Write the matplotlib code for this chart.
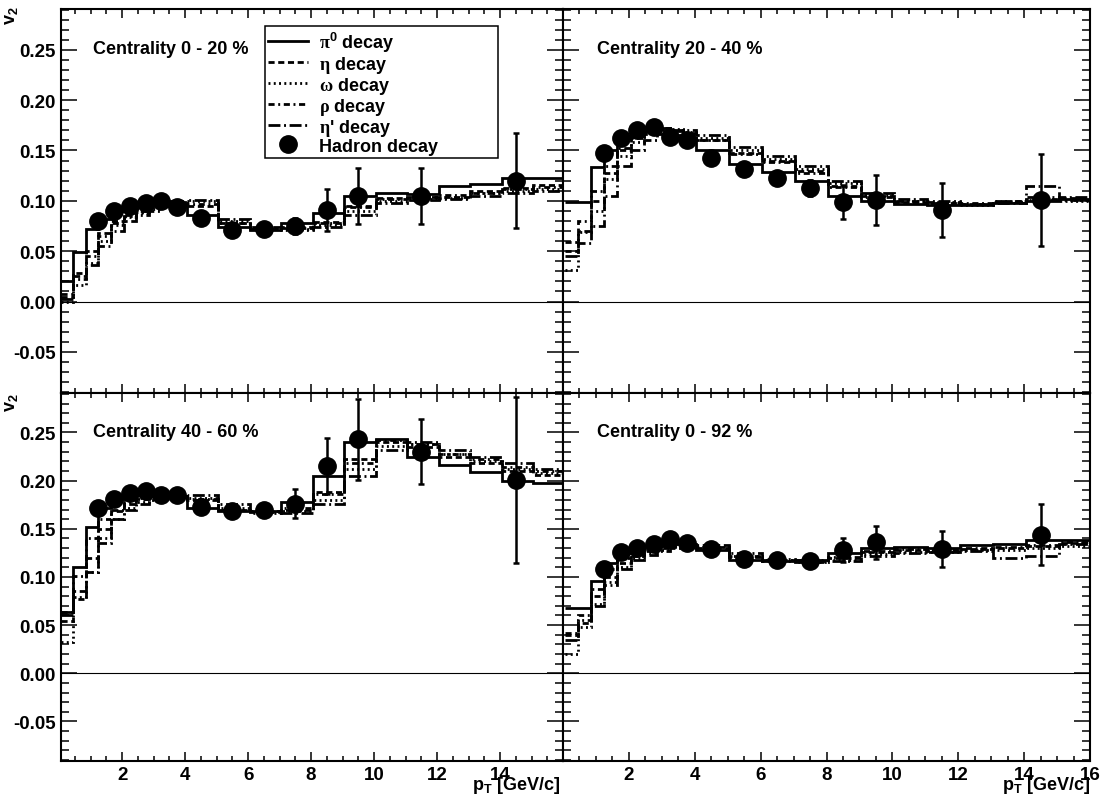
import numpy as np
import matplotlib
matplotlib.use("Agg")
import matplotlib.pyplot as plt
from matplotlib.lines import Line2D
from matplotlib.ticker import MultipleLocator, FuncFormatter, FormatStrFormatter

plt.rcParams['font.family'] = ['Liberation Sans', 'DejaVu Sans']
plt.rcParams['font.weight'] = 'bold'
plt.rcParams['mathtext.fontset'] = 'custom'
plt.rcParams['mathtext.rm'] = 'Liberation Serif'
plt.rcParams['mathtext.bf'] = 'Liberation Sans:bold'
plt.rcParams['mathtext.it'] = 'Liberation Sans:bold'

# histogram bin edges (pT, GeV/c)
edges = [0.05, 0.45, 0.85, 1.25, 1.65, 2.05, 2.45, 2.85, 3.25, 3.65, 4.05,
         5.05, 6.05, 7.05, 8.05, 9.05, 10.05, 11.05, 12.05, 13.05, 14.05, 15.05, 16.05]

# hadron decay points
had_pt = [1.25, 1.75, 2.25, 2.75, 3.25, 3.75, 4.5, 5.5, 6.5, 7.5, 8.5, 9.5, 11.5, 14.5]

# --- Centrality 0 - 20 %
pi0_c1 = [0.020, 0.049, 0.072, 0.082, 0.090, 0.095, 0.098, 0.100, 0.100, 0.095, 0.086,
          0.074, 0.071, 0.078, 0.088, 0.105, 0.108, 0.107, 0.115, 0.117, 0.123, 0.123]
eta_c1 = [0.005, 0.028, 0.050, 0.068, 0.080, 0.086, 0.090, 0.094, 0.098, 0.097, 0.095,
          0.078, 0.072, 0.073, 0.079, 0.095, 0.103, 0.104, 0.104, 0.110, 0.113, 0.116]
omega_c1 = [0.000, 0.016, 0.038, 0.060, 0.076, 0.084, 0.088, 0.092, 0.097, 0.100, 0.100,
            0.080, 0.073, 0.072, 0.076, 0.090, 0.100, 0.102, 0.103, 0.108, 0.110, 0.112]
rho_c1 = [0.008, 0.025, 0.045, 0.065, 0.078, 0.085, 0.089, 0.094, 0.097, 0.098, 0.097,
          0.078, 0.072, 0.074, 0.078, 0.094, 0.102, 0.104, 0.106, 0.108, 0.112, 0.114]
etap_c1 = [0.003, 0.022, 0.036, 0.055, 0.070, 0.080, 0.086, 0.090, 0.095, 0.099, 0.101,
           0.082, 0.074, 0.071, 0.074, 0.086, 0.098, 0.101, 0.102, 0.105, 0.108, 0.110]
had_c1 = [0.080, 0.090, 0.095, 0.098, 0.100, 0.094, 0.083, 0.071, 0.072, 0.075, 0.091, 0.105, 0.105, 0.120]
err_c1 = [0.002, 0.002, 0.002, 0.002, 0.003, 0.003, 0.003, 0.004, 0.004, 0.008, 0.021, 0.028, 0.028, 0.047]

# --- Centrality 20 - 40 %
pi0_c2 = [0.099, 0.099, 0.134, 0.150, 0.163, 0.170, 0.173, 0.172, 0.165, 0.160, 0.150,
          0.137, 0.129, 0.120, 0.105, 0.100, 0.097, 0.096, 0.096, 0.098, 0.100, 0.102]
eta_c2 = [0.050, 0.070, 0.100, 0.128, 0.150, 0.162, 0.168, 0.172, 0.170, 0.166, 0.160,
          0.148, 0.140, 0.130, 0.115, 0.105, 0.099, 0.098, 0.097, 0.100, 0.102, 0.103]
omega_c2 = [0.031, 0.069, 0.090, 0.122, 0.145, 0.158, 0.166, 0.170, 0.171, 0.168, 0.162,
            0.150, 0.142, 0.132, 0.118, 0.106, 0.100, 0.098, 0.096, 0.099, 0.101, 0.100]
rho_c2 = [0.059, 0.080, 0.110, 0.135, 0.152, 0.163, 0.169, 0.172, 0.170, 0.167, 0.160,
          0.147, 0.139, 0.128, 0.114, 0.104, 0.100, 0.099, 0.098, 0.100, 0.104, 0.101]
etap_c2 = [0.045, 0.058, 0.075, 0.105, 0.135, 0.150, 0.160, 0.166, 0.169, 0.170, 0.165,
           0.153, 0.145, 0.135, 0.120, 0.108, 0.102, 0.100, 0.097, 0.098, 0.115, 0.104]
had_c2 = [0.148, 0.162, 0.170, 0.173, 0.163, 0.160, 0.143, 0.132, 0.123, 0.113, 0.099, 0.101, 0.091, 0.101]
err_c2 = [0.003, 0.003, 0.003, 0.003, 0.003, 0.003, 0.003, 0.004, 0.005, 0.008, 0.017, 0.025, 0.027, 0.046]

# --- Centrality 40 - 60 %
pi0_c3 = [0.064, 0.110, 0.152, 0.172, 0.181, 0.186, 0.188, 0.189, 0.186, 0.184, 0.172,
          0.168, 0.168, 0.178, 0.205, 0.240, 0.243, 0.225, 0.216, 0.209, 0.200, 0.198]
eta_c3 = [0.054, 0.077, 0.120, 0.150, 0.168, 0.176, 0.181, 0.184, 0.185, 0.185, 0.180,
          0.170, 0.167, 0.170, 0.188, 0.222, 0.240, 0.235, 0.225, 0.218, 0.210, 0.206]
omega_c3 = [0.032, 0.079, 0.105, 0.140, 0.160, 0.172, 0.178, 0.182, 0.184, 0.186, 0.182,
            0.172, 0.166, 0.168, 0.180, 0.212, 0.236, 0.238, 0.228, 0.220, 0.212, 0.208]
rho_c3 = [0.064, 0.101, 0.140, 0.160, 0.170, 0.178, 0.182, 0.185, 0.186, 0.186, 0.181,
          0.170, 0.168, 0.172, 0.186, 0.218, 0.242, 0.238, 0.228, 0.222, 0.214, 0.210]
etap_c3 = [0.060, 0.085, 0.105, 0.135, 0.160, 0.170, 0.176, 0.180, 0.183, 0.186, 0.185,
           0.176, 0.168, 0.166, 0.176, 0.205, 0.232, 0.240, 0.232, 0.225, 0.218, 0.212]
had_c3 = [0.172, 0.181, 0.187, 0.189, 0.185, 0.185, 0.173, 0.168, 0.169, 0.176, 0.215, 0.243, 0.230, 0.201]
err_c3 = [0.003, 0.003, 0.003, 0.003, 0.003, 0.003, 0.004, 0.005, 0.007, 0.015, 0.029, 0.042, 0.034, 0.086]

# --- Centrality 0 - 92 %
pi0_c4 = [0.068, 0.068, 0.096, 0.115, 0.125, 0.130, 0.132, 0.135, 0.136, 0.134, 0.128,
          0.118, 0.117, 0.118, 0.125, 0.130, 0.131, 0.130, 0.133, 0.134, 0.138, 0.138]
eta_c4 = [0.040, 0.052, 0.080, 0.100, 0.115, 0.122, 0.127, 0.130, 0.132, 0.133, 0.130,
          0.121, 0.118, 0.117, 0.120, 0.126, 0.128, 0.127, 0.129, 0.130, 0.132, 0.135]
omega_c4 = [0.020, 0.048, 0.072, 0.095, 0.110, 0.120, 0.125, 0.128, 0.131, 0.133, 0.131,
            0.122, 0.117, 0.116, 0.118, 0.124, 0.126, 0.126, 0.128, 0.128, 0.130, 0.132]
rho_c4 = [0.042, 0.060, 0.088, 0.108, 0.120, 0.126, 0.130, 0.132, 0.134, 0.134, 0.131,
          0.122, 0.118, 0.118, 0.121, 0.127, 0.129, 0.128, 0.130, 0.131, 0.133, 0.136]
etap_c4 = [0.035, 0.055, 0.070, 0.092, 0.108, 0.118, 0.123, 0.127, 0.130, 0.133, 0.133,
           0.125, 0.119, 0.116, 0.117, 0.122, 0.125, 0.126, 0.127, 0.120, 0.122, 0.134]
had_c4 = [0.108, 0.126, 0.130, 0.134, 0.139, 0.135, 0.129, 0.119, 0.118, 0.117, 0.128, 0.136, 0.129, 0.144]
err_c4 = [0.002, 0.002, 0.002, 0.002, 0.002, 0.002, 0.003, 0.004, 0.005, 0.007, 0.012, 0.017, 0.019, 0.032]

titles = ["Centrality 0 - 20 %", "Centrality 20 - 40 %", "Centrality 40 - 60 %", "Centrality 0 - 92 %"]
labels = [r"$\mathrm{\pi}^{\mathbf{0}}$ decay", r"$\mathrm{\eta}$ decay", r"$\mathrm{\omega}$ decay",
          r"$\mathrm{\rho}$ decay", r"$\mathrm{\eta}$' decay", "Hadron decay"]
styles = ['-', (0, (2.2, 1.3)), (0, (0.7, 1.2)), (0, (2.2, 1.3, 0.7, 1.3)), (0, (4.3, 1.3, 0.7, 1.3))]

panels = [
    ([pi0_c1, eta_c1, omega_c1, rho_c1, etap_c1], had_c1, err_c1),
    ([pi0_c2, eta_c2, omega_c2, rho_c2, etap_c2], had_c2, err_c2),
    ([pi0_c3, eta_c3, omega_c3, rho_c3, etap_c3], had_c3, err_c3),
    ([pi0_c4, eta_c4, omega_c4, rho_c4, etap_c4], had_c4, err_c4),
]

W, H = 1107, 804
fig = plt.figure(figsize=(W / 100, H / 100), dpi=100)
xl, xm, xr = 61 / W, 563 / W, 1090 / W
yt, ym, yb = 1 - 9.5 / H, 1 - 394 / H, 1 - 761.7 / H
rects = [
    [xl, ym, xm - xl, yt - ym],
    [xm, ym, xr - xm, yt - ym],
    [xl, yb, xm - xl, ym - yb],
    [xm, yb, xr - xm, ym - yb],
]

axes = []
for i, (curves, had, err) in enumerate(panels):
    ax = fig.add_axes(rects[i])
    left = i in (0, 2)
    bottom = i in (2, 3)
    for vals, ls in zip(curves, styles):
        ax.stairs(vals, edges, baseline=None, color='k', lw=2.0, linestyle=ls)
    ax.axhline(0, color='k', lw=0.8)
    ax.errorbar(had_pt, had, yerr=err, fmt='o', color='k', ms=12.5, lw=1.8,
                capsize=2.5, capthick=1.8, zorder=5)
    ax.set_xlim((0.06, 16.0) if left else (0.0, 16.0))
    ax.set_ylim(-0.0908, 0.291)
    ax.xaxis.set_major_locator(MultipleLocator(2))
    ax.xaxis.set_minor_locator(MultipleLocator(0.5))
    ax.yaxis.set_major_locator(MultipleLocator(0.05))
    ax.yaxis.set_minor_locator(MultipleLocator(0.01))
    ax.yaxis.set_major_formatter(FormatStrFormatter('%.2f'))
    xmax_lab = 15 if left else 16.5
    ax.xaxis.set_major_formatter(FuncFormatter(
        lambda v, p, m=xmax_lab: f"{v:.0f}" if 1 < v < m else ""))
    ax.tick_params(which='both', direction='in', top=True, right=True,
                   labelsize=13.5, labelleft=left, labelbottom=bottom)
    ax.tick_params(axis='y', which='major', length=11.5, width=1.1, pad=4)
    ax.tick_params(axis='y', which='minor', length=5.8, width=1.1)
    ax.tick_params(axis='x', which='major', length=6.5, width=1.1, pad=3.5)
    ax.tick_params(axis='x', which='minor', length=3.3, width=1.1)
    for s in ax.spines.values():
        s.set_linewidth(1.5)
    ax.text(0.064, 0.895, titles[i], transform=ax.transAxes, fontsize=13,
            fontweight='bold', ha='left', va='center')
    axes.append(ax)

# legend in first panel
handles = [Line2D([], [], color='k', lw=2.0, linestyle=ls) for ls in styles]
handles.append(Line2D([], [], color='k', marker='o', ms=12.5, linestyle='none'))
leg = axes[0].legend(handles, labels, loc='upper left', mode='expand',
                     bbox_to_anchor=(0.406, 0.6216, 0.464, 0.333),
                     frameon=True, fancybox=False, framealpha=1, edgecolor='k',
                     fontsize=13, handlelength=2.2, handletextpad=0.6,
                     labelspacing=0.0, borderpad=0.2, borderaxespad=0)
leg.get_frame().set_linewidth(1.1)

# axis titles
fig.text(12 / W, 1 - 16 / H, r"$\mathbf{v}_{\mathbf{2}}$", rotation=90, fontsize=13,
         ha='center', va='center')
fig.text(12 / W, 1 - 403 / H, r"$\mathbf{v}_{\mathbf{2}}$", rotation=90, fontsize=13,
         ha='center', va='center')
fig.text(560 / W, 1 - 790 / H, r"$\mathbf{p}_{\mathbf{T}}$ [GeV/c]", fontsize=13,
         fontweight='bold', ha='right', va='baseline')
fig.text(1090 / W, 1 - 790 / H, r"$\mathbf{p}_{\mathbf{T}}$ [GeV/c]", fontsize=13,
         fontweight='bold', ha='right', va='baseline')

fig.savefig("out.png", dpi=100)
